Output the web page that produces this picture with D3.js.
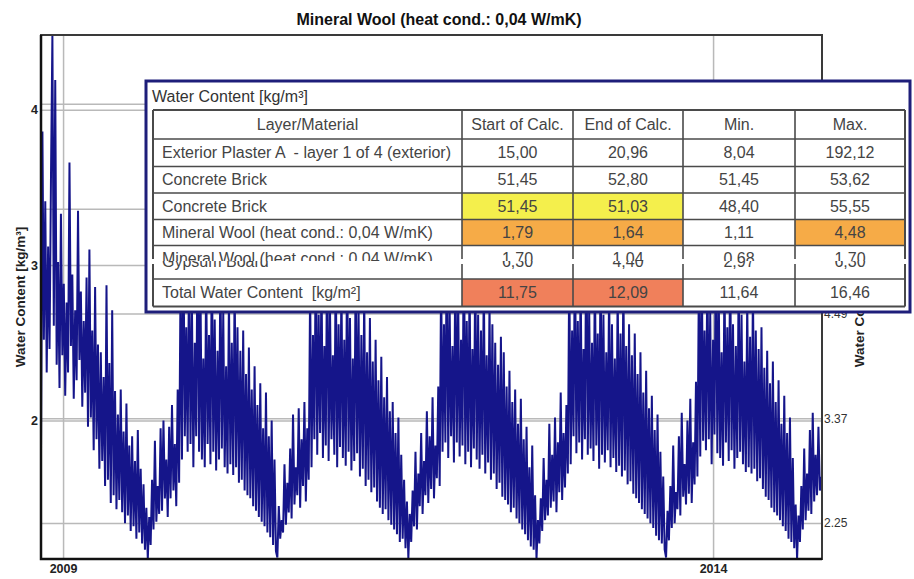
<!DOCTYPE html>
<html>
<head>
<meta charset="utf-8">
<script src="https://cdn.jsdelivr.net/npm/d3@7"></script>
<style>
  body { margin: 0; background: #fff; }
  svg text { font-family: "Liberation Sans", Arial, sans-serif; }
</style>
</head>
<body>
<div id="chart"></div>
<script>
// SVG size and plot margins
var svgWidth = 914;
var svgHeight = 579;

var margin = {
  top: 35,
  right: 92,
  bottom: 20,
  left: 41
};

var width = svgWidth - margin.left - margin.right;
var height = svgHeight - margin.top - margin.bottom;

// data
// =================================
var chartTitle = "Mineral Wool (heat cond.: 0,04 W/mK)";
var axisTitle = "Water Content [kg/m³]";
var leftTicks = [2, 3, 4];
var rightTicks = [2.25, 3.37, 4.49, 5.61, 6.73];
var yearTicks = [2009, 2014];

// water content of the mineral wool, one value every 4 days from 31 Oct 2008
var wc2008 = [
  1.79, 3.86, 2.52, 3.41, 2.31, 3.12, 2.46, 3.55, 4.48, 2.61,
  4.19, 2.36, 3.02, 2.21, 3.33, 2.42, 2.88, 2.16, 2.76, 2.31,
  3.66, 2.48, 2.94, 2.14, 2.71, 2.26, 3.35, 2.39, 2.83, 2.09,
  2.64, 2.18, 2.92, 1.96, 3.10, 2.02, 2.58, 1.81, 2.86, 1.88,
  2.49, 1.69, 2.44, 1.74, 2.28, 1.58, 2.87, 1.62, 2.37, 1.47,
  2.71, 1.52, 2.19, 1.43, 2.04, 1.49, 2.20, 1.41, 1.93, 1.34,
  2.11, 1.39, 1.84, 1.29, 1.90, 1.32, 1.74, 1.24, 1.94, 1.28,
  1.69, 1.21, 1.59, 1.17, 1.44
];
var wc2009 = [
  1.11, 1.38, 1.20, 1.62, 1.30, 1.87, 1.35, 1.58, 1.40, 1.95,
  1.42, 2.00, 1.50, 1.75, 1.38, 1.96, 1.50, 2.10, 1.55, 1.85,
  1.45, 2.20, 1.60, 2.90, 1.75, 3.20, 1.90, 2.60, 1.80, 3.05,
  1.85, 2.75, 1.70, 2.50, 1.90, 3.30, 1.80, 2.85, 1.75, 2.40,
  1.70, 2.95, 1.85, 2.55, 1.72, 3.10, 1.80, 2.65, 1.68, 2.45,
  1.75, 3.00, 1.82, 2.70, 1.70, 2.35, 1.66, 2.80, 1.72, 2.50,
  1.65, 2.90, 1.70, 2.60, 1.60, 2.45, 1.62, 2.58, 1.55, 2.30,
  1.52, 2.47, 1.50, 2.20, 1.45, 2.35, 1.42, 2.10, 1.38, 2.24,
  1.35, 1.95, 1.32, 2.18, 1.28, 1.90, 1.25, 2.00, 1.20, 1.75,
  1.16
];
var wc2010 = [
  1.12, 1.45, 1.24, 1.36, 1.28, 1.72, 1.33, 1.60, 1.41, 1.82,
  1.37, 2.04, 1.46, 1.70, 1.52, 2.08, 1.44, 1.88, 1.58, 2.12,
  1.48, 1.95, 1.62, 2.85, 1.70, 2.55, 1.88, 3.15, 1.78, 2.68,
  1.92, 2.95, 1.76, 2.48, 1.84, 3.25, 1.74, 2.70, 1.88, 2.42,
  1.78, 3.05, 1.70, 2.62, 1.83, 2.88, 1.76, 2.52, 1.71, 3.12,
  1.80, 2.66, 1.68, 2.40, 1.74, 2.98, 1.79, 2.74, 1.64, 2.55,
  1.69, 2.82, 1.58, 2.44, 1.62, 2.66, 1.54, 2.38, 1.57, 2.52,
  1.48, 2.26, 1.44, 2.41, 1.40, 2.15, 1.43, 2.28, 1.36, 2.06,
  1.33, 2.12, 1.30, 1.92, 1.27, 2.02, 1.22, 1.78, 1.24, 1.62,
  1.18, 1.48
];
var wc2011 = [
  1.11, 1.40, 1.22, 1.55, 1.32, 1.80, 1.30, 1.66, 1.45, 1.92,
  1.40, 1.74, 1.52, 2.06, 1.47, 1.90, 1.56, 2.15, 1.50, 1.84,
  1.63, 2.22, 1.58, 2.95, 1.80, 2.62, 1.86, 3.22, 1.76, 2.72,
  1.90, 2.48, 1.73, 3.08, 1.86, 2.78, 1.77, 2.52, 1.84, 3.28,
  1.72, 2.64, 1.80, 2.90, 1.70, 2.46, 1.82, 3.02, 1.75, 2.68,
  1.69, 2.58, 1.78, 2.92, 1.66, 2.42, 1.73, 2.76, 1.62, 2.62,
  1.66, 2.50, 1.56, 2.36, 1.60, 2.54, 1.51, 2.44, 1.49, 2.22,
  1.46, 2.32, 1.41, 2.12, 1.44, 2.20, 1.37, 1.98, 1.34, 2.14,
  1.30, 1.88, 1.27, 1.96, 1.23, 1.70, 1.19, 1.84, 1.17, 1.52
];
var wc2012 = [
  1.11, 1.36, 1.21, 1.50, 1.29, 1.76, 1.36, 1.62, 1.39, 1.98,
  1.44, 1.78, 1.48, 2.02, 1.41, 1.86, 1.54, 2.18, 1.49, 1.92,
  1.57, 2.10, 1.66, 3.00, 1.72, 2.58, 1.90, 3.18, 1.79, 2.64,
  1.86, 2.92, 1.75, 2.46, 1.88, 3.34, 1.78, 2.72, 1.82, 2.50,
  1.74, 2.98, 1.84, 2.56, 1.69, 3.06, 1.78, 2.68, 1.73, 2.44,
  1.81, 2.86, 1.70, 2.62, 1.76, 2.40, 1.67, 2.84, 1.71, 2.56,
  1.64, 2.92, 1.68, 2.48, 1.59, 2.62, 1.61, 2.42, 1.53, 2.56,
  1.50, 2.30, 1.47, 2.44, 1.43, 2.18, 1.40, 2.32, 1.37, 2.08,
  1.34, 2.16, 1.31, 1.94, 1.26, 2.04, 1.23, 1.80, 1.21, 1.64,
  1.17
];
var wc2013 = [
  1.12, 1.42, 1.23, 1.58, 1.31, 1.84, 1.34, 1.54, 1.43, 1.90,
  1.39, 2.05, 1.51, 1.72, 1.46, 2.00, 1.53, 2.14, 1.47, 1.86,
  1.59, 2.25, 1.64, 2.88, 1.77, 3.12, 1.87, 2.58, 1.81, 3.02,
  1.88, 2.70, 1.72, 2.52, 1.91, 3.26, 1.79, 2.80, 1.76, 2.44,
  1.71, 2.94, 1.86, 2.60, 1.74, 3.08, 1.81, 2.62, 1.69, 2.48,
  1.76, 2.96, 1.80, 2.68, 1.72, 2.38, 1.67, 2.78, 1.70, 2.54,
  1.66, 2.86, 1.69, 2.58, 1.61, 2.46, 1.63, 2.60, 1.56, 2.34,
  1.51, 2.45, 1.49, 2.24, 1.44, 2.38, 1.41, 2.12, 1.39, 2.26,
  1.36, 1.98, 1.32, 2.16, 1.29, 1.92, 1.24, 2.02, 1.22, 1.76,
  1.18, 1.46
];
var wc2014 = [
  1.11, 1.39, 1.22, 1.58, 1.30, 1.82, 1.36, 1.66, 1.42, 1.94,
  1.40, 2.05, 1.48, 1.78, 1.52, 1.96, 1.55, 1.64
];

// table values
var tableTitle = "Water Content [kg/m³]";
var tableColumns = ["Layer/Material", "Start of Calc.", "End of Calc.", "Min.", "Max."];
var layerNames = [
  "Exterior Plaster A  - layer 1 of 4 (exterior)",
  "Concrete Brick",
  "Concrete Brick",
  "Mineral Wool (heat cond.: 0,04 W/mK)",
  "Mineral Wool (heat cond.: 0,04 W/mK)",
  "Gypsum Board",
  "Total Water Content  [kg/m²]"
];
var startValues = [15.00, 51.45, 51.45, 1.79, 1.70, 6.30, 11.75];
var endValues = [20.96, 52.80, 51.03, 1.64, 1.04, 4.40, 12.09];
var minValues = [8.04, 51.45, 48.40, 1.11, 0.68, 2.97, 11.64];
var maxValues = [192.12, 53.62, 55.55, 4.48, 1.70, 6.30, 16.46];

// build the series
var startDate = new Date(2008, 9, 31);
var waterContent = [].concat(wc2008, wc2009, wc2010, wc2011, wc2012, wc2013, wc2014);
var series = waterContent.map(function(v, i) {
  return { date: d3.timeDay.offset(startDate, i * 4), value: v };
});

// append svg and group
var svg = d3.select("#chart")
  .append("svg")
  .attr("width", svgWidth)
  .attr("height", svgHeight);

svg.append("rect")
  .attr("width", svgWidth)
  .attr("height", svgHeight)
  .attr("fill", "#fff");

var chartGroup = svg.append("g")
  .attr("transform", `translate(${margin.left}, ${margin.top})`);

// scales
var xScale = d3.scaleTime()
  .domain([new Date(2008, 9, 31), new Date(2014, 10, 3)])
  .range([0, width]);

var yScale = d3.scaleLinear()
  .domain([1.11, 4.48])
  .range([height, 0]);

var y2Scale = d3.scaleLinear()
  .domain([1.866, 7.466])
  .range([height, 0]);

var yearDates = yearTicks.map(function(y) { return new Date(y, 0, 1); });

// gridlines
function styleGrid(g) {
  g.select(".domain").remove();
  g.selectAll("text").remove();
  g.selectAll("line").attr("stroke", "#b9b9b9").attr("stroke-width", 1.5);
}

chartGroup.append("g")
  .call(d3.axisLeft(yScale).tickValues(leftTicks).tickSize(-width))
  .call(styleGrid);

chartGroup.append("g")
  .attr("transform", `translate(${width}, 0)`)
  .call(d3.axisRight(y2Scale).tickValues(rightTicks).tickSize(-width))
  .call(styleGrid);

chartGroup.append("g")
  .attr("transform", `translate(0, ${height})`)
  .call(d3.axisBottom(xScale).tickValues(yearDates).tickSize(-height))
  .call(styleGrid);

// the line
chartGroup.append("clipPath")
  .attr("id", "plotClip")
  .append("rect")
  .attr("width", width)
  .attr("height", height);

var line = d3.line()
  .x(d => xScale(d.date))
  .y(d => yScale(d.value));

chartGroup.append("path")
  .datum(series)
  .attr("clip-path", "url(#plotClip)")
  .attr("d", line)
  .attr("fill", "none")
  .attr("stroke", "#15158a")
  .attr("stroke-width", 2)
  .attr("stroke-linejoin", "bevel");

// frame
chartGroup.append("rect")
  .attr("width", width)
  .attr("height", height)
  .attr("fill", "none")
  .attr("stroke", "#3a3a3a")
  .attr("stroke-width", 2);

chartGroup.append("path")
  .attr("d", `M0,0V${height}H${width}`)
  .attr("fill", "none")
  .attr("stroke", "#111")
  .attr("stroke-width", 2.5);

// axis labels
function styleLabels(g) {
  g.select(".domain").remove();
  g.selectAll("line").remove();
  g.selectAll("text")
    .attr("font-size", "12.5px")
    .attr("font-weight", "bold")
    .attr("fill", "#222");
}

chartGroup.append("g")
  .call(d3.axisLeft(yScale).tickValues(leftTicks).tickSize(0).tickPadding(3).tickFormat(d3.format("d")))
  .call(styleLabels);

chartGroup.append("g")
  .attr("transform", `translate(${width}, 0)`)
  .call(d3.axisRight(y2Scale).tickValues(rightTicks).tickSize(0).tickPadding(2).tickFormat(d3.format(".2f")))
  .call(styleLabels)
  .selectAll("text")
  .attr("font-size", "12px")
  .attr("font-weight", "normal")
  .attr("fill", "#333");

chartGroup.append("g")
  .attr("transform", `translate(0, ${height})`)
  .call(d3.axisBottom(xScale).tickValues(yearDates).tickSize(0).tickPadding(5).tickFormat(d3.timeFormat("%Y")))
  .call(styleLabels);

// title and axis titles
svg.append("text")
  .attr("x", 439)
  .attr("y", 25)
  .attr("text-anchor", "middle")
  .attr("font-size", "16px")
  .attr("font-weight", "bold")
  .attr("fill", "#111")
  .text(chartTitle);

chartGroup.append("text")
  .attr("transform", "rotate(-90)")
  .attr("x", -height / 2)
  .attr("y", -16)
  .attr("text-anchor", "middle")
  .attr("font-size", "13.5px")
  .attr("font-weight", "bold")
  .attr("fill", "#222")
  .text(axisTitle);

chartGroup.append("text")
  .attr("transform", "rotate(-90)")
  .attr("x", -height / 2)
  .attr("y", width + 42)
  .attr("text-anchor", "middle")
  .attr("font-size", "13.5px")
  .attr("font-weight", "bold")
  .attr("fill", "#222")
  .text(axisTitle);

// table overlay
// =================================
var colX = [153, 462, 573, 683, 795, 905];
var rowY = [110, 139, 166.5, 193, 219.5, 245.5, 279, 306.5];
var rowSlot = [1, 2, 3, 4, 5, 5, 6];
var seamY = 261;
var cellFill = {
  "2,1": "#f4ef4c", "2,2": "#f4ef4c",
  "3,1": "#f6ab47", "3,2": "#f6ab47", "3,4": "#f6ab47",
  "6,1": "#f0805b", "6,2": "#f0805b"
};
var numFormat = d3.formatLocale({ decimal: ",", thousands: ".", grouping: [3], currency: ["", ""] }).format(".2f");

var tableGroup = svg.append("g");

tableGroup.append("rect")
  .attr("x", 146)
  .attr("y", 81)
  .attr("width", 764)
  .attr("height", 231)
  .attr("fill", "#fff")
  .attr("stroke", "#1e1e7a")
  .attr("stroke-width", 3);

tableGroup.append("text")
  .attr("x", 152)
  .attr("y", 102)
  .attr("font-size", "16px")
  .attr("fill", "#333")
  .text(tableTitle);

var tableRows = layerNames.map(function(name, i) {
  return [name, startValues[i], endValues[i], minValues[i], maxValues[i]];
});

// highlighted cells
Object.keys(cellFill).forEach(function(key) {
  var rc = key.split(",").map(Number);
  var slot = rowSlot[rc[0]];
  tableGroup.append("rect")
    .attr("x", colX[rc[1]])
    .attr("y", rowY[slot])
    .attr("width", colX[rc[1] + 1] - colX[rc[1]])
    .attr("height", rowY[slot + 1] - rowY[slot])
    .attr("fill", cellFill[key]);
});

// clip areas for the half-scrolled row
tableGroup.append("clipPath").attr("id", "rowTop")
  .append("rect").attr("x", colX[0]).attr("y", rowY[5]).attr("width", colX[5] - colX[0]).attr("height", seamY - rowY[5]);
tableGroup.append("clipPath").attr("id", "rowBottom")
  .append("rect").attr("x", colX[0]).attr("y", seamY).attr("width", colX[5] - colX[0]).attr("height", rowY[6] - seamY);

// header
tableGroup.selectAll(".head")
  .data(tableColumns)
  .enter()
  .append("text")
  .attr("x", (d, i) => (colX[i] + colX[i + 1]) / 2)
  .attr("y", (rowY[0] + rowY[1]) / 2 + 5.5)
  .attr("text-anchor", "middle")
  .attr("font-size", "16px")
  .attr("fill", "#444")
  .text(d => d);

// body
tableRows.forEach(function(row, r) {
  var slot = rowSlot[r];
  var baseY = (rowY[slot] + rowY[slot + 1]) / 2 + 5.5;
  var clip = null;
  if (r === 4) { baseY = seamY + 2.5; clip = "url(#rowTop)"; }
  if (r === 5) { baseY = seamY + 6; clip = "url(#rowBottom)"; }

  var g = tableGroup.append("g").attr("clip-path", clip);
  g.selectAll("text")
    .data(row)
    .enter()
    .append("text")
    .attr("x", (d, i) => i === 0 ? colX[0] + 9 : (colX[i] + colX[i + 1]) / 2)
    .attr("y", baseY)
    .attr("text-anchor", (d, i) => i === 0 ? "start" : "middle")
    .attr("font-size", "16px")
    .attr("fill", "#444")
    .style("white-space", "pre")
    .text((d, i) => i === 0 ? d : numFormat(d));
});

// table lines
rowY.forEach(function(y, i) {
  tableGroup.append("line")
    .attr("x1", colX[0]).attr("x2", colX[5])
    .attr("y1", y).attr("y2", y)
    .attr("stroke", "#4a4a4a")
    .attr("stroke-width", i === 0 || i === rowY.length - 1 ? 2 : 1.6);
});

colX.forEach(function(x, i) {
  var w = i === 0 || i === colX.length - 1 ? 2 : 1.6;
  tableGroup.append("line")
    .attr("x1", x).attr("x2", x)
    .attr("y1", rowY[0]).attr("y2", seamY - 2)
    .attr("stroke", "#4a4a4a").attr("stroke-width", w);
  tableGroup.append("line")
    .attr("x1", x).attr("x2", x)
    .attr("y1", seamY + 3).attr("y2", rowY[rowY.length - 1])
    .attr("stroke", "#4a4a4a").attr("stroke-width", w);
});
</script>
</body>
</html>
